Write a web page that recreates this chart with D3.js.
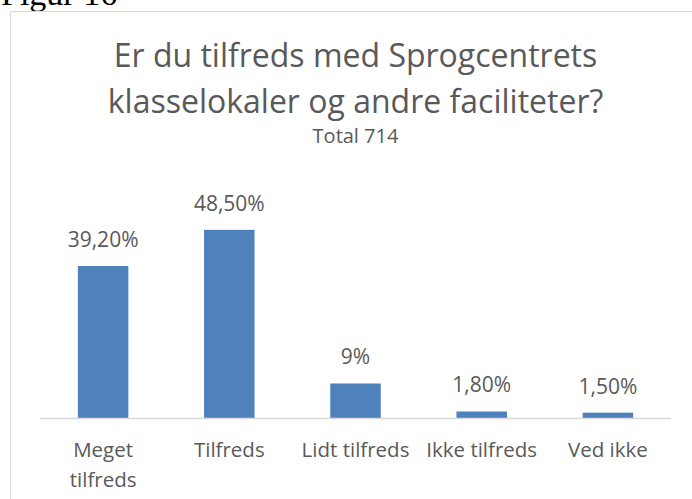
<!DOCTYPE html>
<meta charset="utf-8">
<style>
  body { margin: 0; background: #fff; }
  text { font-family: "Open Sans", sans-serif; fill: #595959; }
</style>
<script src="https://d3js.org/d3.v7.min.js"></script>
<div id="chart"></div>
<script>

// data
var categories = ["Meget tilfreds", "Tilfreds", "Lidt tilfreds", "Ikke tilfreds", "Ved ikke"];
var values = [39.2, 48.5, 9, 1.8, 1.5];
var valueLabels = ["39,20%", "48,50%", "9%", "1,80%", "1,50%"];
var titleLines = ["Er du tilfreds med Sprogcentrets", "klasselokaler og andre faciliteter?"];
var subtitle = "Total 714";

var W = 692, H = 499;
var plot = {left: 40, right: 671, base: 418.5};

var svg = d3.select("#chart").append("svg")
    .attr("width", W)
    .attr("height", H);

// caption above the frame (cut off at the top)
svg.append("text")
    .attr("x", 1)
    .attr("y", 5)
    .style("font-family", "'Liberation Serif', 'DejaVu Serif', serif")
    .style("font-size", "34px")
    .style("fill", "#000")
    .text("Figur 16");

// chart frame
svg.append("rect")
    .attr("x", 10.5)
    .attr("y", 11.5)
    .attr("width", 700)
    .attr("height", 520)
    .attr("fill", "#fff")
    .attr("stroke", "#d9d9d9")
    .attr("stroke-width", 1);

var x = d3.scaleBand()
    .domain(categories)
    .range([plot.left, plot.right])
    .paddingInner(0.6)
    .paddingOuter(0.3);

var y = d3.scaleLinear()
    .domain([0, 50])
    .range([plot.base, plot.base - 50 * 3.89]);

var cx = (plot.left + plot.right) / 2;

// title
svg.selectAll(".title")
  .data(titleLines)
  .enter().append("text")
    .attr("class", "title")
    .attr("x", cx)
    .attr("y", function(d, i) { return 67 + i * 46; })
    .attr("text-anchor", "middle")
    .style("font-size", "32px")
    .text(function(d) { return d; });

svg.append("text")
    .attr("x", cx)
    .attr("y", 143)
    .attr("text-anchor", "middle")
    .style("font-size", "20px")
    .text(subtitle);

// bars
svg.selectAll(".bar")
  .data(values)
  .enter().append("rect")
    .attr("class", "bar")
    .attr("x", function(d, i) { return x(categories[i]); })
    .attr("width", x.bandwidth())
    .attr("y", function(d) { return y(d); })
    .attr("height", function(d) { return y(0) - y(d); })
    .attr("fill", "#4f81bd");

// value labels
svg.selectAll(".vlabel")
  .data(values)
  .enter().append("text")
    .attr("class", "vlabel")
    .attr("x", function(d, i) { return x(categories[i]) + x.bandwidth() / 2; })
    .attr("y", function(d) { return y(d) - 19; })
    .attr("text-anchor", "middle")
    .style("font-size", "21px")
    .text(function(d, i) { return valueLabels[i]; });

// x axis line
svg.append("line")
    .attr("x1", plot.left)
    .attr("x2", plot.right)
    .attr("y1", y(0))
    .attr("y2", y(0))
    .attr("stroke", "#d9d9d9")
    .attr("stroke-width", 1.3);

// category labels, wrapped when wider than the band step
var x_axis = d3.axisBottom(x).tickSize(0).tickPadding(0);
var xa = svg.append("g")
    .attr("transform", "translate(0," + y(0) + ")")
    .call(x_axis);
xa.select(".domain").remove();
xa.selectAll(".tick text")
    .attr("y", 38)
    .attr("dy", 0)
    .style("font-family", "'Open Sans', sans-serif")
    .style("font-size", "20.5px")
    .attr("fill", "#595959")
    .each(function(d) {
      var t = d3.select(this);
      if (this.getComputedTextLength() <= x.step() - 4) return;
      var words = d.split(" ");
      t.text(null);
      words.forEach(function(w, i) {
        t.append("tspan").attr("x", 0).attr("y", 38 + i * 30).text(w);
      });
    });

</script>
